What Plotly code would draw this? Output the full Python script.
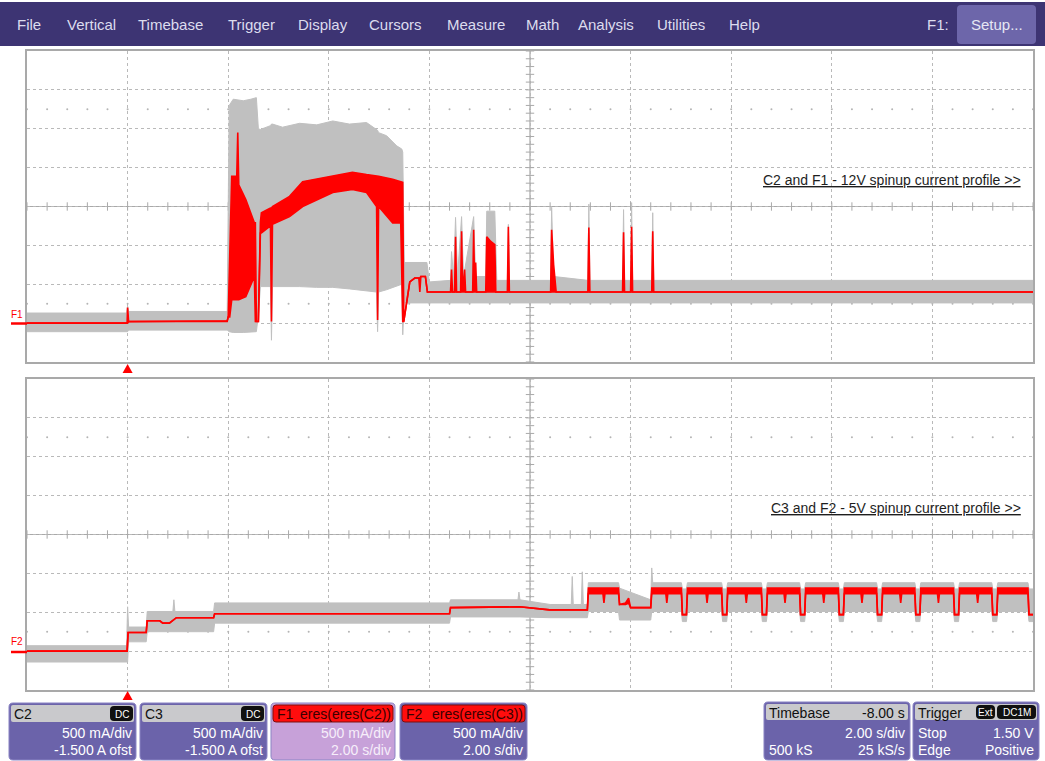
import numpy as np
import plotly.graph_objects as go

W, H = 1045, 761
FONT = "Liberation Sans, Arial, sans-serif"

# ---- waveform data: (time s, low A, high A) envelopes ----
# C2: raw 12V current (grey)
c2_env = [
    (-2.00, -0.11, 0.13), (-0.02, -0.11, 0.13), (0.00, -0.11, 0.22), (0.02, -0.09, 0.15),
    (1.98, -0.09, 0.15), (2.02, -0.11, 2.80), (2.10, -0.12, 2.88), (2.30, -0.12, 2.86),
    (2.45, -0.11, 2.88), (2.56, -0.11, 2.90), (2.60, 0.10, 2.50), (2.64, 0.47, 2.49),
    (2.84, 0.47, 2.54), (2.86, -0.22, 2.56), (2.88, 0.47, 2.56), (3.08, 0.47, 2.52),
    (3.42, 0.47, 2.57), (3.76, 0.46, 2.55), (4.08, 0.46, 2.60), (4.41, 0.44, 2.56),
    (4.75, 0.42, 2.58), (4.95, 0.40, 2.49), (4.97, -0.11, 2.48), (4.99, 0.40, 2.45),
    (5.15, 0.43, 2.41), (5.35, 0.48, 2.28), (5.45, 0.50, 2.24), (5.47, -0.15, 2.20),
    (5.50, 0.26, 0.78), (5.95, 0.26, 0.78), (6.00, 0.26, 0.53), (6.42, 0.26, 0.55),
    (6.44, 0.26, 0.92), (6.48, 0.26, 0.60), (6.52, 0.26, 1.36), (6.56, 0.26, 0.60),
    (6.64, 0.26, 1.37), (6.68, 0.26, 0.60), (6.88, 0.26, 1.37), (6.92, 0.26, 0.60),
    (7.12, 0.26, 0.60), (7.14, 0.26, 1.44), (7.30, 0.26, 1.44), (7.34, 0.26, 0.55),
    (7.55, 0.26, 0.55), (7.57, 0.26, 1.27), (7.59, 0.26, 0.55), (8.41, 0.26, 0.55),
    (8.43, 0.26, 1.49), (8.47, 0.26, 0.60), (9.15, 0.26, 0.55), (9.17, 0.26, 1.53),
    (9.19, 0.26, 0.55), (9.84, 0.26, 0.55), (9.86, 0.26, 1.46), (9.88, 0.26, 0.55),
    (10.00, 0.26, 0.55), (10.02, 0.26, 1.55), (10.04, 0.26, 0.55), (10.42, 0.26, 0.55),
    (10.44, 0.26, 1.42), (10.46, 0.26, 0.55), (18.00, 0.26, 0.55),
]

# F1: eres(eres(C2)) (red)
f1_env = [
    (-2.00, 0.00, 0.00), (-0.01, 0.00, 0.00), (0.00, 0.00, 0.20), (0.02, 0.02, 0.02),
    (1.98, 0.02, 0.03), (2.00, 0.08, 0.08), (2.03, 0.08, 0.86), (2.07, 0.30, 1.89),
    (2.17, 0.30, 1.89), (2.19, 0.30, 2.45), (2.21, 0.30, 1.78), (2.35, 0.34, 1.59),
    (2.52, 0.60, 1.29), (2.54, 0.02, 1.29), (2.56, 0.02, 0.02), (2.60, 0.02, 0.02),
    (2.64, 1.16, 1.30), (2.66, 1.16, 1.42), (2.84, 1.25, 1.48), (2.86, 0.02, 1.48),
    (2.88, 1.27, 1.50), (3.22, 1.37, 1.63), (3.48, 1.50, 1.82), (4.08, 1.68, 1.89),
    (4.47, 1.72, 1.94), (4.75, 1.68, 1.91), (4.95, 1.50, 1.89), (4.97, 0.04, 1.89),
    (4.99, 1.50, 1.89), (5.27, 1.29, 1.85), (5.43, 1.29, 1.81), (5.47, 0.02, 1.81),
    (5.49, 0.02, 0.02), (5.51, 0.11, 0.11), (5.57, 0.40, 0.40), (5.61, 0.53, 0.53),
    (5.71, 0.58, 0.58), (5.79, 0.58, 0.58), (5.81, 0.40, 0.58), (5.83, 0.60, 0.60),
    (5.92, 0.60, 0.60), (5.96, 0.40, 0.40), (6.42, 0.40, 0.40), (6.44, 0.40, 0.69),
    (6.46, 0.40, 0.40), (6.50, 0.40, 0.40), (6.52, 0.40, 1.11), (6.54, 0.40, 0.40),
    (6.62, 0.40, 0.40), (6.64, 0.40, 1.18), (6.66, 0.40, 0.40), (6.70, 0.40, 0.69),
    (6.72, 0.40, 0.40), (6.86, 0.40, 0.40), (6.88, 0.40, 1.20), (6.90, 0.40, 0.40),
    (6.92, 0.40, 0.78), (6.94, 0.40, 0.40), (7.12, 0.40, 0.40), (7.14, 0.40, 1.11),
    (7.22, 0.40, 1.05), (7.30, 0.40, 1.01), (7.32, 0.40, 0.40), (7.55, 0.40, 0.40),
    (7.57, 0.40, 1.24), (7.59, 0.40, 0.40), (8.41, 0.40, 0.40), (8.43, 0.40, 1.20),
    (8.47, 0.40, 0.75), (8.52, 0.40, 0.40), (9.15, 0.40, 0.40), (9.17, 0.40, 1.23),
    (9.19, 0.40, 0.40), (9.84, 0.40, 0.40), (9.86, 0.40, 1.17), (9.88, 0.40, 0.40),
    (10.00, 0.40, 0.40), (10.02, 0.40, 1.24), (10.04, 0.40, 0.40), (10.42, 0.40, 0.40),
    (10.44, 0.40, 1.18), (10.46, 0.40, 0.40), (18.00, 0.40, 0.40),
]

# C3: raw 5V current (grey)
c3_env = [
    (-2.00, -0.14, 0.07), (-0.02, -0.14, 0.07), (0.00, -0.14, 0.57), (0.02, 0.12, 0.31),
    (0.37, 0.12, 0.31), (0.39, 0.25, 0.51), (0.90, 0.25, 0.51), (0.92, 0.25, 0.66),
    (0.94, 0.25, 0.51), (1.71, 0.25, 0.51), (1.73, 0.36, 0.62), (6.40, 0.36, 0.62),
    (6.42, 0.44, 0.66), (7.76, 0.44, 0.66), (7.78, 0.44, 0.76), (7.80, 0.44, 0.66),
    (8.40, 0.43, 0.60), (8.82, 0.43, 0.60), (8.84, 0.43, 0.96), (8.86, 0.43, 0.60),
    (9.02, 0.43, 0.60), (9.04, 0.43, 1.02), (9.06, 0.43, 0.60), (9.14, 0.43, 0.60),
    (9.16, 0.51, 0.88), (9.76, 0.51, 0.88), (9.78, 0.40, 0.81), (10.40, 0.40, 0.66),
    (10.42, 0.51, 1.07), (10.44, 0.51, 0.88),
    (11.01, 0.51, 0.88), (11.03, 0.38, 0.80), (11.11, 0.38, 0.80), (11.13, 0.51, 0.88),
    (11.81, 0.51, 0.88), (11.83, 0.38, 0.80), (11.91, 0.38, 0.80), (11.93, 0.51, 0.88),
    (12.60, 0.51, 0.88), (12.62, 0.38, 0.80), (12.70, 0.38, 0.80), (12.72, 0.51, 0.88),
    (13.36, 0.51, 0.88), (13.38, 0.38, 0.80), (13.46, 0.38, 0.80), (13.48, 0.51, 0.88),
    (14.13, 0.51, 0.88), (14.15, 0.38, 0.80), (14.23, 0.38, 0.80), (14.25, 0.51, 0.88),
    (14.89, 0.51, 0.88), (14.91, 0.38, 0.80), (14.99, 0.38, 0.80), (15.01, 0.51, 0.88),
    (15.65, 0.51, 0.88), (15.67, 0.38, 0.80), (15.75, 0.38, 0.80), (15.77, 0.51, 0.88),
    (16.42, 0.51, 0.88), (16.44, 0.38, 0.80), (16.52, 0.38, 0.80), (16.54, 0.51, 0.88),
    (17.18, 0.51, 0.88), (17.20, 0.38, 0.80), (17.28, 0.38, 0.80), (17.30, 0.51, 0.88),
    (17.90, 0.51, 0.88), (17.92, 0.38, 0.80), (18.00, 0.38, 0.80),
]

# F2: eres(eres(C3)) (red)
f2_env = [
    (-2.00, 0.00, 0.00), (-0.01, 0.00, 0.00), (0.01, 0.24, 0.24), (0.37, 0.24, 0.24),
    (0.39, 0.39, 0.39), (0.64, 0.39, 0.39), (0.70, 0.36, 0.36), (0.83, 0.36, 0.36),
    (0.97, 0.43, 0.43), (1.71, 0.43, 0.43), (1.73, 0.48, 0.48), (6.40, 0.48, 0.48),
    (6.42, 0.56, 0.56), (7.79, 0.57, 0.57), (8.39, 0.53, 0.53), (9.14, 0.53, 0.53),
    (9.16, 0.74, 0.81), (9.45, 0.74, 0.81), (9.47, 0.62, 0.81), (9.49, 0.74, 0.81),
    (9.76, 0.74, 0.81), (9.78, 0.60, 0.60), (9.90, 0.60, 0.62), (9.96, 0.62, 0.68),
    (10.00, 0.56, 0.56), (10.40, 0.56, 0.56), (10.42, 0.74, 0.81),
    (10.70, 0.74, 0.81), (10.72, 0.62, 0.81), (10.74, 0.74, 0.81),
    (11.01, 0.74, 0.81), (11.03, 0.47, 0.47), (11.11, 0.47, 0.47), (11.13, 0.74, 0.81),
    (11.50, 0.74, 0.81), (11.52, 0.62, 0.81), (11.54, 0.74, 0.81),
    (11.81, 0.74, 0.81), (11.83, 0.47, 0.47), (11.91, 0.47, 0.47), (11.93, 0.74, 0.81),
    (12.28, 0.74, 0.81), (12.30, 0.62, 0.81), (12.32, 0.74, 0.81),
    (12.60, 0.74, 0.81), (12.62, 0.47, 0.47), (12.70, 0.47, 0.47), (12.72, 0.74, 0.81),
    (13.05, 0.74, 0.81), (13.07, 0.62, 0.81), (13.09, 0.74, 0.81),
    (13.36, 0.74, 0.81), (13.38, 0.47, 0.47), (13.46, 0.47, 0.47), (13.48, 0.74, 0.81),
    (13.82, 0.74, 0.81), (13.84, 0.62, 0.81), (13.86, 0.74, 0.81),
    (14.13, 0.74, 0.81), (14.15, 0.47, 0.47), (14.23, 0.47, 0.47), (14.25, 0.74, 0.81),
    (14.58, 0.74, 0.81), (14.60, 0.62, 0.81), (14.62, 0.74, 0.81),
    (14.89, 0.74, 0.81), (14.91, 0.47, 0.47), (14.99, 0.47, 0.47), (15.01, 0.74, 0.81),
    (15.35, 0.74, 0.81), (15.37, 0.62, 0.81), (15.39, 0.74, 0.81),
    (15.65, 0.74, 0.81), (15.67, 0.47, 0.47), (15.75, 0.47, 0.47), (15.77, 0.74, 0.81),
    (16.10, 0.74, 0.81), (16.12, 0.62, 0.81), (16.14, 0.74, 0.81),
    (16.42, 0.74, 0.81), (16.44, 0.47, 0.47), (16.52, 0.47, 0.47), (16.54, 0.74, 0.81),
    (16.88, 0.74, 0.81), (16.90, 0.62, 0.81), (16.92, 0.74, 0.81),
    (17.18, 0.74, 0.81), (17.20, 0.47, 0.47), (17.28, 0.47, 0.47), (17.30, 0.74, 0.81),
    (17.90, 0.74, 0.81), (17.92, 0.47, 0.47), (18.00, 0.47, 0.47),
]

# screen settings
t_range = [-2.0, 18.0]      # 2 s/div, trigger 1 div from left
amp_range = [-0.5, 3.5]     # 500 mA/div, -1.5 A offset
trigger_t = 0.0

menu_labels = ["File", "Vertical", "Timebase", "Trigger", "Display", "Cursors",
               "Measure", "Math", "Analysis", "Utilities", "Help"]
menu_left = [16, 66, 137, 227, 297, 368, 446, 525, 577, 656, 728]

GRAY_TRACE = "#c0c0c0"
RED = "#ff0000"
GRID = "#b9b9b9"
FRAME = "#a9a9a9"
MENU_BG = "#3d3473"
BOX_BG = "#6b63aa"
HEAD_BG = "#c9c9cc"


def fx(px):
    return px / W


def fy(py):
    return 1 - py / H


shapes = []
annotations = []


def rrect(x0, y0, x1, y1, fill, r=3, line=None, lw=0):
    # rounded rectangle in pixel coordinates, drawn in paper space
    X = lambda v: f"{fx(v):.5f}"
    Y = lambda v: f"{fy(v):.5f}"
    p = (f"M{X(x0 + r)},{Y(y0)} L{X(x1 - r)},{Y(y0)} Q{X(x1)},{Y(y0)} {X(x1)},{Y(y0 + r)} "
         f"L{X(x1)},{Y(y1 - r)} Q{X(x1)},{Y(y1)} {X(x1 - r)},{Y(y1)} "
         f"L{X(x0 + r)},{Y(y1)} Q{X(x0)},{Y(y1)} {X(x0)},{Y(y1 - r)} "
         f"L{X(x0)},{Y(y0 + r)} Q{X(x0)},{Y(y0)} {X(x0 + r)},{Y(y0)} Z")
    shapes.append(dict(type="path", xref="paper", yref="paper", path=p,
                       fillcolor=fill, line=dict(color=line or fill, width=lw)))


def label(px, py, s, anchor="left", color="white", size=14, family=FONT):
    annotations.append(dict(xref="paper", yref="paper", x=fx(px), y=fy(py),
                            xanchor=anchor, yanchor="middle", text=s, showarrow=False,
                            borderpad=0, font=dict(family=family, size=size, color=color)))


def badge(x0, x1, y0, y1, s):
    rrect(x0, y0, x1, y1, "#101010", r=4)
    label((x0 + x1) / 2, (y0 + y1) / 2 + 0.5, s, anchor="center", color="white", size=10)


fig = go.Figure()


def add_env(env, color, xa, ya, lw):
    t = [p[0] for p in env]
    lo = [p[1] for p in env]
    hi = [p[2] for p in env]
    fig.add_trace(go.Scatter(x=t, y=lo, mode="lines", line=dict(color=color, width=lw),
                             xaxis=xa, yaxis=ya, hoverinfo="skip", showlegend=False))
    fig.add_trace(go.Scatter(x=t, y=hi, mode="lines", line=dict(color=color, width=lw),
                             fill="tonexty", fillcolor=color,
                             xaxis=xa, yaxis=ya, hoverinfo="skip", showlegend=False))


mid_t = (t_range[0] + t_range[1]) / 2
mid_a = (amp_range[0] + amp_range[1]) / 2
minor_t = np.arange(t_range[0], t_range[1] + 1e-9, 0.4)
minor_a = np.arange(amp_range[0], amp_range[1] + 1e-9, 0.1)

for xa, ya in [("x", "y"), ("x2", "y2")]:
    # graticule decorations: centre-line ticks and dotted rows
    fig.add_trace(go.Scatter(x=minor_t, y=[mid_a] * len(minor_t), mode="markers",
                             marker=dict(symbol="line-ns-open", size=6, color=FRAME,
                                         line=dict(color=FRAME, width=1)),
                             xaxis=xa, yaxis=ya, hoverinfo="skip", showlegend=False))
    fig.add_trace(go.Scatter(x=[mid_t] * len(minor_a), y=minor_a, mode="markers",
                             marker=dict(symbol="line-ew-open", size=6, color=FRAME,
                                         line=dict(color=FRAME, width=1)),
                             xaxis=xa, yaxis=ya, hoverinfo="skip", showlegend=False))
    for row in (amp_range[0] + 0.75, amp_range[1] - 0.75):
        fig.add_trace(go.Scatter(x=minor_t, y=[row] * len(minor_t), mode="markers",
                                 marker=dict(symbol="circle", size=2, color="#b4b4b4"),
                                 xaxis=xa, yaxis=ya, hoverinfo="skip", showlegend=False))
    shapes.append(dict(type="line", xref=xa, yref=ya, x0=mid_t, x1=mid_t,
                       y0=amp_range[0], y1=amp_range[1], layer="below",
                       line=dict(color=FRAME, width=1.2)))
    shapes.append(dict(type="line", xref=xa, yref=ya, x0=t_range[0], x1=t_range[1],
                       y0=mid_a, y1=mid_a, layer="below",
                       line=dict(color=FRAME, width=1.2)))

add_env(c2_env, GRAY_TRACE, "x", "y", 1)
add_env(f1_env, RED, "x", "y", 1.6)
add_env(c3_env, GRAY_TRACE, "x2", "y2", 1)
add_env(f2_env, RED, "x2", "y2", 1.6)

axis_common = dict(showgrid=True, griddash="dot", gridcolor=GRID, gridwidth=1,
                   showline=True, mirror=True, linecolor=FRAME, linewidth=1.5,
                   showticklabels=False, ticks="", zeroline=False, fixedrange=True)
x_dom = [fx(27), fx(1033)]
fig.update_layout(
    xaxis=dict(domain=x_dom, range=t_range, dtick=2, tick0=0, anchor="y", **axis_common),
    yaxis=dict(domain=[fy(362), fy(51)], range=amp_range, dtick=0.5, tick0=0,
               anchor="x", **axis_common),
    xaxis2=dict(domain=x_dom, range=t_range, dtick=2, tick0=0, anchor="y2", **axis_common),
    yaxis2=dict(domain=[fy(690), fy(379)], range=amp_range, dtick=0.5, tick0=0,
                anchor="x2", **axis_common),
)

# trace labels and trigger markers
for py_lab, py_line, name in [(314, 323.5, "F1"), (641, 652, "F2")]:
    label(17, py_lab, name, anchor="center", color=RED, size=10)
    shapes.append(dict(type="line", xref="paper", yref="paper", x0=fx(11), x1=fx(27),
                       y0=fy(py_line), y1=fy(py_line), line=dict(color=RED, width=2.5)))
for yb, yt, xa in [(373, 364, "x"), (700, 691, "x2")]:
    shapes.append(dict(type="path", xref=xa, yref="paper",
                       path=f"M{trigger_t - 0.1},{fy(yb):.5f} L{trigger_t + 0.1},{fy(yb):.5f} "
                            f"L{trigger_t},{fy(yt):.5f} Z",
                       fillcolor=RED, line=dict(color=RED, width=0)))

label(1022, 180, "<u>C2 and F1 - 12V spinup current profile &gt;&gt;</u>",
      anchor="right", color="#1e1e1e", size=14)
label(1022, 508, "<u>C3 and F2 - 5V spinup current profile &gt;&gt;</u>",
      anchor="right", color="#1e1e1e", size=14)

# menu bar
shapes.append(dict(type="rect", xref="paper", yref="paper", x0=0, x1=1,
                   y0=fy(46), y1=fy(2), fillcolor=MENU_BG, line=dict(width=0)))
for name, x in zip(menu_labels, menu_left):
    label(x, 24, name, color="#dcdcee", size=15)
label(950, 24, "F1:", anchor="right", color="#dcdcee", size=15)
rrect(957, 5, 1036, 44, "#6d66aa", r=4)
label(997, 24, "Setup...", anchor="center", color="#e6e6f4", size=15)

# channel descriptor boxes
for x0, x1, name in [(9, 136, "C2"), (140, 267, "C3")]:
    rrect(x0, 703, x1, 760, BOX_BG, r=4, line="#8a84c4", lw=1)
    rrect(x0 + 2, 705, x1 - 2, 722, HEAD_BG, r=2)
    label(x0 + 4, 713.5, name, color="#101010", size=14)
    badge(x1 - 26, x1 - 3, 706, 721, "DC")
    label(x1 - 3, 733, "500 mA/div", anchor="right", size=14)
    label(x1 - 3, 750, "-1.500 A ofst", anchor="right", size=14)

for x0, x1, name, src, body in [(271, 395, "F1", "eres(eres(C2))", "#c7a1d9"),
                                (400, 527, "F2", "eres(eres(C3))", BOX_BG)]:
    rrect(x0, 703, x1, 760, body, r=4, line="#8a84c4", lw=1)
    rrect(x0 + 2, 705, x1 - 2, 722, "#ff0d0d", r=3, line="#7a1010", lw=1)
    label(x0 + 5, 713.5, name, color="#3a0000", size=14)
    label(x1 - 3, 713.5, src, anchor="right", color="#3a0000", size=14)
    fc = "#f6eefa" if name == "F1" else "white"
    label(x1 - 3, 733, "500 mA/div", anchor="right", color=fc, size=14)
    label(x1 - 3, 750, "2.00 s/div", anchor="right", color=fc, size=14)

# timebase box
rrect(764, 702, 910, 760, BOX_BG, r=4, line="#8a84c4", lw=1)
rrect(766, 704, 908, 720, HEAD_BG, r=2)
label(768, 712.5, "Timebase", color="#101010", size=14)
label(906, 712.5, "-8.00 s", anchor="right", color="#101010", size=14)
label(906, 733, "2.00 s/div", anchor="right", size=14)
label(768, 750, "500 kS", size=14)
label(906, 750, "25 kS/s", anchor="right", size=14)

# trigger box
rrect(913, 702, 1039, 760, BOX_BG, r=4, line="#8a84c4", lw=1)
rrect(915, 704, 1037, 720, HEAD_BG, r=2)
label(917, 712.5, "Trigger", color="#101010", size=14)
badge(976, 995, 705, 719, "Ext")
badge(997, 1036, 705, 719, "DC1M")
label(917, 733, "Stop", size=14)
label(1035, 733, "1.50 V", anchor="right", size=14)
label(917, 750, "Edge", size=14)
label(1035, 750, "Positive", anchor="right", size=14)

fig.update_layout(
    width=W, height=H, margin=dict(l=0, r=0, t=0, b=0),
    paper_bgcolor="white", plot_bgcolor="white",
    shapes=shapes, annotations=annotations, showlegend=False,
)

fig.write_html("out.html", config={"displayModeBar": False},
               post_script="document.body.style.margin='0';document.body.style.overflow='hidden';")
